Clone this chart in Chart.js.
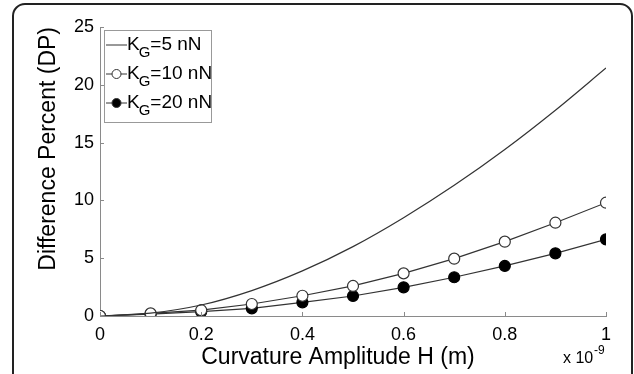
<!DOCTYPE html>
<html>
<head>
<meta charset="utf-8">
<script src="https://cdn.jsdelivr.net/npm/chart.js@4"></script>
<style>
html,body{margin:0;padding:0;background:#fff;}
#wrap{width:634px;height:374px;position:relative;}
</style>
</head>
<body>
<div id="wrap"><canvas id="c" width="634" height="374"></canvas></div>
<script>
const xValues = [0, 0.1, 0.2, 0.3, 0.4, 0.5, 0.6, 0.7, 0.8, 0.9, 1.0];
const kg5 = [0, 0.25, 0.95, 2.2, 3.9, 6.0, 8.5, 11.3, 14.4, 17.8, 21.45];
const kg10 = [0, 0.23, 0.5, 1.04, 1.75, 2.6, 3.69, 4.96, 6.43, 8.07, 9.8];
const kg20 = [0, 0.17, 0.37, 0.66, 1.18, 1.73, 2.48, 3.35, 4.33, 5.42, 6.63];
const seriesLabels = ['=5 nN', '=10 nN', '=20 nN'];
const xTicks = [0, 0.2, 0.4, 0.6, 0.8, 1];
const yTicks = [0, 5, 10, 15, 20, 25];
const xTitle = 'Curvature Amplitude H (m)';
const yTitle = 'Difference Percent (DP)';
const FONT = 'Liberation Sans, Arial, sans-serif';
const LINE = '#333333';
const AXIS = '#8a8a8a';
const TEXT = '#000';

const pts = arr => arr.map((v, i) => ({x: xValues[i], y: v}));

const framePlugin = {
  id: 'frame',
  beforeDraw(chart) {
    const ctx = chart.ctx;
    ctx.save();
    ctx.fillStyle = '#fff';
    ctx.fillRect(0, 0, chart.width, chart.height);
    ctx.strokeStyle = '#222';
    ctx.lineWidth = 2;
    const l = 13, t = 4, r = 632, b = 400, rad = 12;
    ctx.beginPath();
    ctx.moveTo(l, b);
    ctx.lineTo(l, t + rad);
    ctx.arcTo(l, t, l + rad, t, rad);
    ctx.lineTo(r - rad, t);
    ctx.arcTo(r, t, r, t + rad, rad);
    ctx.lineTo(r, b);
    ctx.stroke();
    ctx.restore();
  }
};

const extrasPlugin = {
  id: 'extras',
  afterDraw(chart) {
    const ctx = chart.ctx;
    const xs = chart.scales.x, ys = chart.scales.y;
    ctx.save();
    // inward ticks
    ctx.strokeStyle = AXIS;
    ctx.lineWidth = 1;
    ctx.beginPath();
    yTicks.forEach(v => {
      const py = Math.round(ys.getPixelForValue(v)) + 0.5;
      ctx.moveTo(xs.left, py); ctx.lineTo(xs.left + 4, py);
    });
    xTicks.forEach(v => {
      const px = Math.round(xs.getPixelForValue(v)) + 0.5;
      ctx.moveTo(px, ys.bottom); ctx.lineTo(px, ys.bottom - 4);
    });
    ctx.stroke();
    // x axis title
    ctx.fillStyle = TEXT;
    ctx.font = '23px ' + FONT;
    ctx.textAlign = 'center';
    ctx.textBaseline = 'middle';
    ctx.fillText(xTitle, (xs.left + xs.right) / 2 - 15, 358);
    // exponent label
    ctx.font = '16px ' + FONT;
    ctx.textBaseline = 'alphabetic';
    ctx.textAlign = 'left';
    const ex = xs.getPixelForValue(1) - 43;
    ctx.fillText('x 10', ex, 363);
    ctx.font = '12px ' + FONT;
    ctx.fillText('-9', ex + 31, 354);
    // legend
    const lx = 104, ly = 30, lw = 107, lh = 92;
    ctx.fillStyle = '#fff';
    ctx.fillRect(lx, ly, lw, lh);
    ctx.strokeStyle = '#999';
    ctx.strokeRect(lx + 0.5, ly + 0.5, lw, lh);
    chart.data.datasets.forEach((ds, i) => {
      const cy = ly + 15 + i * 29;
      ctx.strokeStyle = LINE;
      ctx.lineWidth = 1;
      ctx.beginPath();
      ctx.moveTo(lx + 2, cy); ctx.lineTo(lx + 23, cy);
      ctx.stroke();
      if (ds.pointRadius > 0) {
        ctx.beginPath();
        ctx.arc(lx + 12.5, cy, 4.5, 0, Math.PI * 2);
        ctx.fillStyle = ds.pointBackgroundColor;
        ctx.fill();
        ctx.stroke();
      }
      ctx.fillStyle = TEXT;
      ctx.font = '19px ' + FONT;
      ctx.textBaseline = 'middle';
      const tx = lx + 23;
      ctx.fillText('K', tx, cy);
      const kw = ctx.measureText('K').width;
      ctx.font = '15px ' + FONT;
      ctx.fillText('G', tx + kw - 1, cy + 8);
      const gw = ctx.measureText('G').width;
      ctx.font = '19px ' + FONT;
      ctx.fillText(seriesLabels[i], tx + kw + gw - 1, cy);
    });
    ctx.restore();
  }
};

new Chart(document.getElementById('c'), {
  type: 'line',
  data: {
    datasets: [
      {label: 'KG=5 nN', data: pts(kg5), borderColor: LINE, borderWidth: 1.2, pointRadius: 0, cubicInterpolationMode: 'monotone', pointBackgroundColor: '#fff'},
      {label: 'KG=10 nN', data: pts(kg10), borderColor: LINE, borderWidth: 1.2, pointRadius: 5.5, pointBorderWidth: 1.2, pointBorderColor: LINE, pointBackgroundColor: '#fff'},
      {label: 'KG=20 nN', data: pts(kg20), borderColor: LINE, borderWidth: 1.2, pointRadius: 5.5, pointBorderWidth: 1.2, pointBorderColor: '#000', pointBackgroundColor: '#000'}
    ]
  },
  options: {
    responsive: false,
    animation: false,
    layout: {padding: {left: 0, right: 28, top: 27, bottom: 0}},
    plugins: {legend: {display: false}, tooltip: {enabled: false}},
    scales: {
      x: {
        type: 'linear', min: 0, max: 1,
        afterFit: s => { s.height = 58; },
        afterBuildTicks: s => { s.ticks = xTicks.map(v => ({value: v})); },
        grid: {display: false, drawTicks: false},
        border: {display: true, color: AXIS, width: 1},
        ticks: {padding: 8, color: TEXT, font: {family: FONT, size: 18}, callback: v => String(v)},
        title: {display: false}
      },
      y: {
        type: 'linear', min: 0, max: 25,
        afterFit: s => { s.width = 100; },
        afterBuildTicks: s => { s.ticks = yTicks.map(v => ({value: v})); },
        grid: {display: false, drawTicks: false},
        border: {display: true, color: AXIS, width: 1},
        ticks: {padding: 6, color: TEXT, font: {family: FONT, size: 18}, callback: v => String(v)},
        title: {display: true, text: yTitle, color: TEXT, align: 'end', font: {family: FONT, size: 23}, padding: {top: 35, bottom: 0}}
      }
    }
  },
  plugins: [framePlugin, extrasPlugin]
});
</script>
</body>
</html>
